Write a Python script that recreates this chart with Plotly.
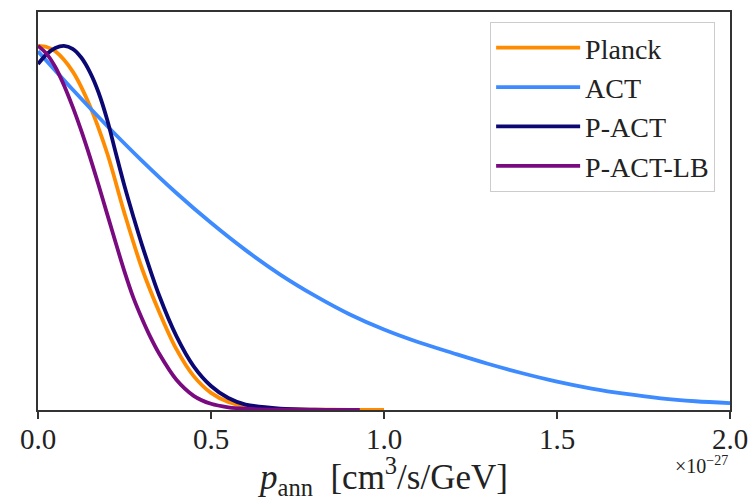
import plotly.graph_objects as go

# x in units of 1e-27 cm^3/s/GeV, y = normalised posterior
planck_x = [0, 0.025, 0.05, 0.1, 0.15, 0.2, 0.25, 0.3, 0.35, 0.4, 0.45, 0.5, 0.55, 0.6, 0.7, 0.8, 0.9, 1.0]
planck_y = [1.0, 0.997, 0.985, 0.93, 0.835, 0.705, 0.54, 0.39, 0.27, 0.167, 0.093, 0.047, 0.022, 0.010, 0.003, 0.001, 0.0005, 0.0003]

act_x = [0, 0.1, 0.2, 0.3, 0.4, 0.5, 0.6, 0.7, 0.8, 0.9, 1.0, 1.1, 1.2, 1.3, 1.4, 1.5, 1.6, 1.7, 1.8, 1.9, 2.0]
act_y = [0.985, 0.88, 0.78, 0.685, 0.596, 0.514, 0.439, 0.372, 0.314, 0.263, 0.221, 0.186, 0.156, 0.127, 0.101, 0.078, 0.059, 0.044, 0.032, 0.024, 0.019]

pact_x = [0, 0.025, 0.05, 0.075, 0.1, 0.125, 0.15, 0.175, 0.2, 0.225, 0.25, 0.275, 0.3, 0.35, 0.4, 0.45, 0.5, 0.55, 0.6, 0.7, 0.8, 0.88]
pact_y = [0.95, 0.977, 0.994, 1.0, 0.992, 0.968, 0.928, 0.872, 0.797, 0.705, 0.615, 0.533, 0.455, 0.315, 0.203, 0.12, 0.066, 0.033, 0.015, 0.004, 0.001, 0.0004]

pactlb_x = [0, 0.025, 0.05, 0.075, 0.1, 0.125, 0.15, 0.175, 0.2, 0.225, 0.25, 0.275, 0.3, 0.325, 0.35, 0.4, 0.45, 0.5, 0.55, 0.6, 0.7, 0.8, 0.93]
pactlb_y = [1.0, 0.978, 0.942, 0.892, 0.833, 0.767, 0.695, 0.618, 0.538, 0.458, 0.38, 0.31, 0.252, 0.2, 0.155, 0.083, 0.039, 0.017, 0.0075, 0.0035, 0.001, 0.0004, 0.0002]

series_names = ["Planck", "ACT", "P-ACT", "P-ACT-LB"]
series_colors = ["#FF8C00", "#3D8BFF", "#0C0873", "#7A0A80"]
series_x = [planck_x, act_x, pact_x, pactlb_x]
series_y = [planck_y, act_y, pact_y, pactlb_y]

x_tick_vals = [0.0, 0.5, 1.0, 1.5, 2.0]
x_tick_text = ["0.0", "0.5", "1.0", "1.5", "2.0"]

FONT = "Liberation Serif, Times New Roman, serif"

fig = go.Figure()
for i, (name, col, xs, ys) in enumerate(zip(series_names, series_colors, series_x, series_y)):
    fig.add_trace(go.Scatter(
        x=xs, y=ys, name=name, mode="lines",
        line=dict(color=col, width=3.8, shape="spline", smoothing=0.9),
        legendgroup=f"g{i}",
    ))

fig.update_layout(
    width=752, height=501,
    margin=dict(l=38, r=22, t=12, b=91, autoexpand=False),
    paper_bgcolor="white", plot_bgcolor="white",
    font=dict(family=FONT, color="#222222", size=28),
    showlegend=True,
    legend=dict(
        x=0.9785, y=0.975, xanchor="right", yanchor="top",
        bgcolor="rgba(255,255,255,0.9)", bordercolor="#CCCCCC", borderwidth=1,
        font=dict(family=FONT, size=28, color="#222222"),
        tracegroupgap=0, itemwidth=84,
    ),
)
fig.update_xaxes(
    range=[0, 2.0], tickvals=x_tick_vals, ticktext=x_tick_text,
    ticks="outside", ticklen=7, tickwidth=1.5, tickcolor="#333333",
    showline=True, linecolor="#333333", linewidth=1.6, mirror=True,
    showgrid=False, zeroline=False, automargin=True,
    ticklabelstandoff=-5,
    tickfont=dict(family=FONT, size=29, color="#222222"),
    title=dict(text="<i>p</i><sub>ann</sub>  [cm<sup>3</sup>/s/GeV]",
               font=dict(family=FONT, size=35, color="#222222"), standoff=20),
)
fig.update_yaxes(
    range=[0, 1.093], showticklabels=False, ticks="",
    showline=True, linecolor="#333333", linewidth=1.6, mirror=True,
    showgrid=False, zeroline=False, automargin=False,
)
fig.add_annotation(
    xref="paper", yref="paper", x=1.0, y=-0.138, xanchor="right", yanchor="middle",
    text="×10<sup>−27</sup>", showarrow=False,
    font=dict(family=FONT, size=20, color="#222222"),
)

fig.write_html("out.html", config={"displayModeBar": False},
               post_script="document.body.style.margin='0';")
